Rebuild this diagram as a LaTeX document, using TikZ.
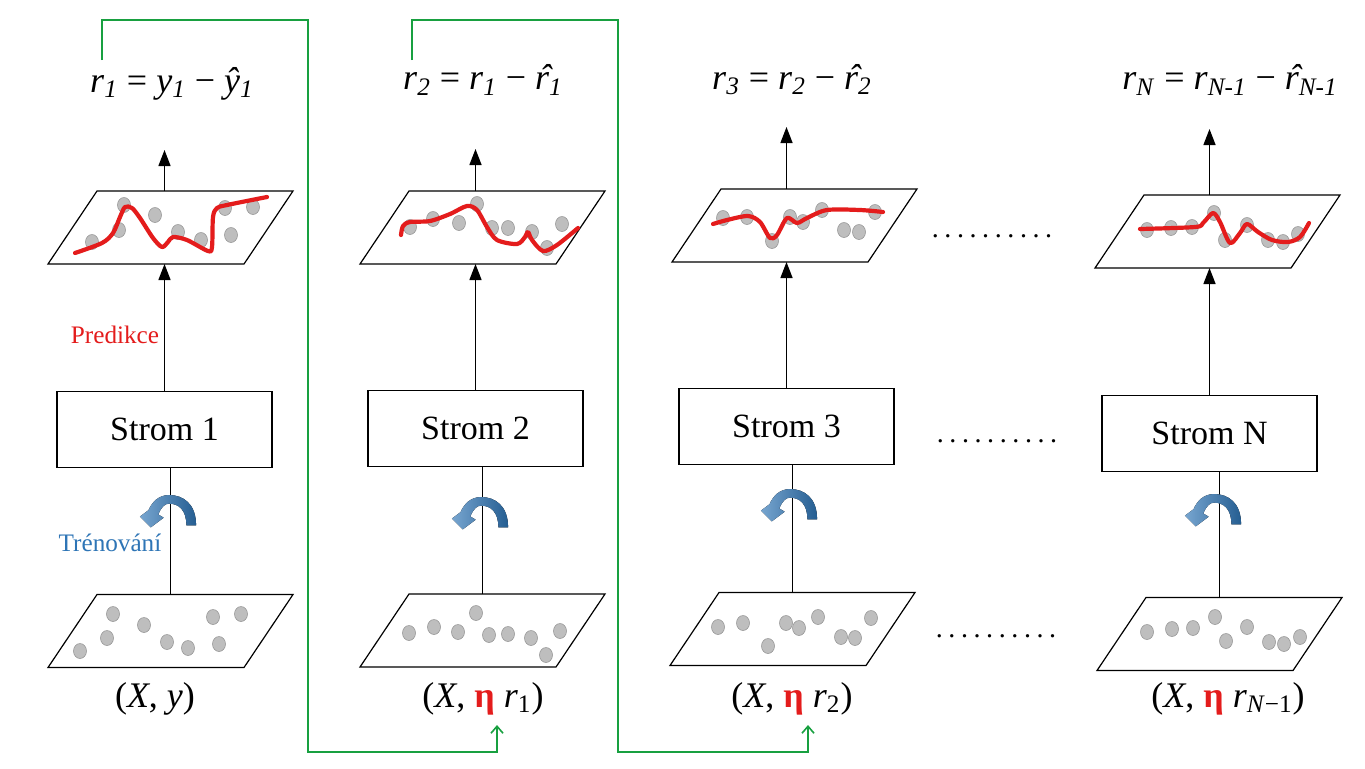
\documentclass[tikz,border=0pt]{standalone}
\usepackage{fontspec}
\setmainfont{Liberation Serif}
\usepackage{xcolor}
\usetikzlibrary{arrows.meta}

\definecolor{predred}{RGB}{228,28,28}
\definecolor{trainblue}{RGB}{46,117,182}
\definecolor{feedgreen}{RGB}{24,160,64}
\definecolor{dotgray}{RGB}{190,190,190}

\newcommand{\ri}[1]{\textit{r}\textsubscript{\textit{#1}}}
\newcommand{\rh}[1]{\textit{\ooalign{r\cr\hidewidth\kern0.18em\raisebox{0.02em}{ˆ}\hidewidth\cr}}\textsubscript{\textit{#1}}}
\newcommand{\etar}{\textcolor{predred}{\textbf{η}}}

\tikzset{
  tree/.style={draw, minimum width=107.5pt, minimum height=38pt, line width=0.6pt,
    font=\fontsize{17}{20}\selectfont},
  formula/.style={font=\fontsize{18}{20}\selectfont},
  pair/.style={font=\fontsize{18}{20}\selectfont},
  arr/.style={-{Triangle[width=6pt,length=8pt]}, line width=0.7pt},
  feed/.style={draw=feedgreen, line width=0.8pt, -{Straight Barb[length=3.5pt,width=6pt]}},
  predline/.style={draw=predred, line width=2.1pt, line cap=round, line join=round},
  pt/.style={fill=dotgray, draw=gray!80, line width=0.3pt},
  plane/.pic={
    \draw[line width=0.6pt] (-122.5,36.5) -- (73.5,36.5) -- (122.5,-36.5) -- (-73.5,-36.5) -- cycle;
    \coordinate (-top) at (0,-36.5);
    \coordinate (-bot) at (0,36.5);
  },
  curl/.pic={
    \fill[left color=trainblue!65!white, right color=trainblue!80!black, scale=1.08]
      (17,28) -- (26,28) .. controls (26,8) and (14,0) .. (1,0)
      .. controls (-9,0) and (-15,7) .. (-18,14) -- (-26,20) -- (-16,30)
      -- (-4,21) -- (-9,18) .. controls (-6,11) and (-3,8) .. (1,8)
      .. controls (10,8) and (17,14) .. (17,28) -- cycle;
  }
}

\begin{document}
\begin{tikzpicture}[x=0.5pt,y=-0.5pt]
  \useasboundingbox[fill=white] (0,0) rectangle (1365,768);

  % formulas
  \node[formula] (f1) at (172,84) {\ri{1} = \textit{y}\textsubscript{\textit{1}} − \textit{ŷ}\textsubscript{\textit{1}}};
  \node[formula] (f2) at (483,84) {\ri{2} = \ri{1} − \rh{1}};
  \node[formula] (f3) at (792,84) {\ri{3} = \ri{2} − \rh{2}};
  \node[formula] (fN) at (1230,84) {\ri{N} = \ri{N-1} − \rh{N-1}};

  % prediction planes
  \pic (p1) at (170.5,227.5) {plane};
  \pic (p2) at (482.5,227.5) {plane};
  \pic (p3) at (794.5,225.5) {plane};
  \pic (pN) at (1217.5,231.5) {plane};

  % trees
  \node[tree] (s1) at (164.5,429.5) {Strom 1};
  \node[tree] (s2) at (475.5,428.5) {Strom 2};
  \node[tree] (s3) at (786.5,426.5) {Strom 3};
  \node[tree] (sN) at (1209.5,433.5) {Strom N};

  % data planes
  \pic (q1) at (170.5,631) {plane};
  \pic (q2) at (482.5,630.5) {plane};
  \pic (q3) at (792.5,629) {plane};
  \pic (qN) at (1219.5,634) {plane};

  % labels
  \node[pair] (l1) at (155,699) {(\textit{X}, \textit{y})};
  \node[pair] (l2) at (483,699) {(\textit{X}, \etar\ \textit{r}\textsubscript{1})};
  \node[pair] (l3) at (792,699) {(\textit{X}, \etar\ \textit{r}\textsubscript{2})};
  \node[pair] (lN) at (1228,699) {(\textit{X}, \etar\ \textit{r}\textsubscript{\textit{N}−1})};

  \node[font=\fontsize{12.6}{14}\selectfont, text=predred] (pr) at (115,335) {Predikce};
  \node[font=\fontsize{12.6}{14}\selectfont, text=trainblue] (tr) at (110,543) {Trénování};

  \node[font=\fontsize{14}{14}\selectfont] (d1) at (992,236) {\foreach \i in {1,...,10}{.\hspace{2.8pt}}};
  \node[font=\fontsize{14}{14}\selectfont] (d2) at (997,441) {\foreach \i in {1,...,10}{.\hspace{2.8pt}}};
  \node[font=\fontsize{14}{14}\selectfont] (d3) at (996,636) {\foreach \i in {1,...,10}{.\hspace{2.8pt}}};

  % arrows
  \foreach \c/\l in {1/41, 2/42, 3/62, N/66}{
    \draw[arr] (s\c.north |- p\c-top) -- ++(0,-\l);
    \draw[arr] (s\c.north) -- (s\c.north |- p\c-bot);
    \draw[line width=0.7pt] (q\c-top) -- (q\c-top |- s\c.south);
  }

  \pic at (168,495) {curl};
  \pic at (480,497) {curl};
  \pic at (789,489) {curl};
  \pic at (1213,494) {curl};

  % points
  \foreach \p in {(92,242),(119,230),(124,205),(155,215),(178,232),(201,240),(225,208),(253,207),(231,235),
    (410,227),(433,219),(459,223),(477,204),(492,228),(508,228),(532,232),(547,248),(562,224),
    (723,218),(747,217),(772,241),(790,217),(803,222),(822,210),(844,230),(859,232),(875,212),
    (1147,230),(1171,228),(1192,227),(1214,213),(1225,240),(1247,225),(1268,240),(1283,242),(1298,234),
    (113,614),(80,651),(107,638),(144,625),(167,642),(188,648),(213,617),(241,614),(219,644),
    (409,633),(434,627),(458,632),(476,613),(489,635),(508,634),(531,638),(560,631),(546,655),
    (718,627),(743,623),(768,646),(786,623),(799,628),(818,617),(841,637),(855,638),(871,618),
    (1147,632),(1172,629),(1193,628),(1215,617),(1226,641),(1247,627),(1269,642),(1284,644),(1300,637)}
    \draw[pt] \p ellipse [x radius=6.5, y radius=7.5];

  % fitted curves
  \draw[predline] plot[smooth, tension=0.5] coordinates {(75,253) (102,243) (113,233) (120,217) (125,207) (132,208)
    (140,218) (153,238) (162,247) (168,242) (173,237) (187,240) (208,251) (212,247) (213,217) (217,208) (227,205) (267,197)};
  \draw[predline] plot[smooth, tension=0.5] coordinates {(401,235) (403,226) (410,222) (430,221) (450,214) (467,206)
    (477,210) (487,227) (497,240) (517,244) (525,237) (528,232) (532,240) (543,251) (557,245) (578,228)};
  \draw[predline] plot[smooth, tension=0.5] coordinates {(713,224) (727,220) (748,216) (760,222) (770,238) (777,235)
    (787,218) (797,223) (807,218) (827,210) (860,210) (883,212)};
  \draw[predline] plot[smooth, tension=0.5] coordinates {(1140,229) (1195,227) (1203,223) (1213,213) (1220,222)
    (1230,243) (1240,233) (1247,224) (1258,232) (1272,240) (1288,242) (1300,237) (1309,223)};

  % feedback
  \coordinate (g1) at (102,60);
  \coordinate (h1) at (308,20);
  \coordinate (k1) at (308,752);
  \coordinate (t1) at (497,725);
  \coordinate (g2) at (412,60);
  \coordinate (h2) at (618,20);
  \coordinate (k2) at (618,752);
  \coordinate (t2) at (808,725);
  \draw[feed] (g1) |- (h1) -- (k1) -| (t1);
  \draw[feed] (g2) |- (h2) -- (k2) -| (t2);
\end{tikzpicture}
\end{document}
